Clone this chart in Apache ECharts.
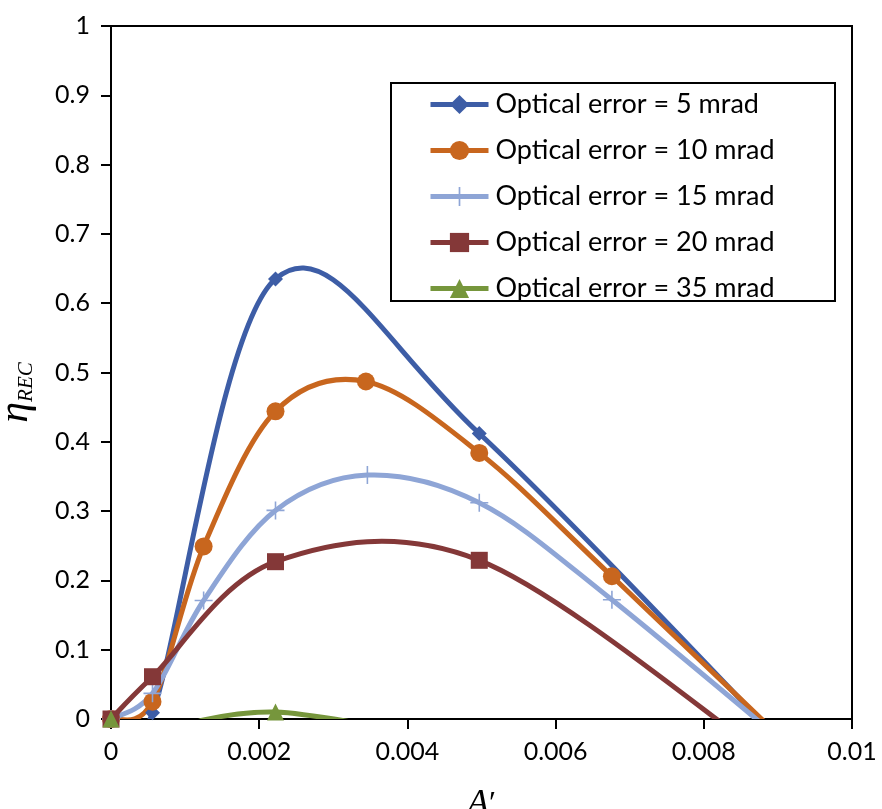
<!DOCTYPE html>
<html>
<head>
<meta charset="utf-8">
<script src="https://cdn.jsdelivr.net/npm/echarts@6/dist/echarts.min.js"></script>
<style>
html,body{margin:0;padding:0;background:#fff;}
#chart{width:882px;height:809px;}
</style>
</head>
<body>
<div id="chart"></div>
<script>
// ---- data ----
const seriesNames = ['Optical error = 5 mrad','Optical error = 10 mrad','Optical error = 15 mrad','Optical error = 20 mrad','Optical error = 35 mrad'];

// points beyond the visible area (negative values) are clipped like in the original
const x5  = [0, 0.00056, 0.00222, 0.00497, 0.0100];
const y5  = [0, 0.009, 0.635, 0.412, -0.14];

const x10 = [0, 0.00056, 0.00125, 0.00222, 0.00344, 0.00497, 0.00676, 0.0100];
const y10 = [0, 0.025, 0.249, 0.444, 0.487, 0.384, 0.206, -0.125];

const x15 = [0, 0.00056, 0.00125, 0.00222, 0.00346, 0.00497, 0.00676, 0.0100];
const y15 = [0, 0.037, 0.171, 0.301, 0.352, 0.312, 0.172, -0.116];

const x20 = [0, 0.00056, 0.00222, 0.00497, 0.0088];
const y20 = [0, 0.061, 0.227, 0.229, -0.05];

const x35 = [0, 0.00056, 0.00125, 0.00222, 0.00346];
const y35 = [0, -0.03, -0.0015, 0.010, -0.008];

const xTicks = [0, 0.002, 0.004, 0.006, 0.008, 0.01];
const yTicks = [0, 0.1, 0.2, 0.3, 0.4, 0.5, 0.6, 0.7, 0.8, 0.9, 1];

const colors = ['#3D5DA6', '#C8661E', '#8EA5D6', '#843838', '#76963C'];
// ----------------------------------------------

const xs = [x5, x10, x15, x20, x35];
const ys = [y5, y10, y15, y20, y35];

const plusPath = 'path://M7.3,0h1.4v7.3h7.3v1.4h-7.3v7.3h-1.4v-7.3h-7.3v-1.4h7.3z';
const symbols = ['diamond', 'circle', plusPath, 'rect', 'triangle'];
const symbolSizes = [15, 18, 18, 17, 17];

const FONT = 'Lato';

// Excel-style smoothed line (cubic Bezier, control points at 1/6 of neighbour chord)
function makeRender(i) {
  return function (params, api) {
    if (params.dataIndex !== 0) return null;
    const pts = xs[i].map((x, k) => api.coord([x, ys[i][k]]));
    let d = 'M' + pts[0][0] + ',' + pts[0][1];
    for (let k = 0; k < pts.length - 1; k++) {
      const p0 = pts[k - 1] || pts[k], p1 = pts[k], p2 = pts[k + 1], p3 = pts[k + 2] || pts[k + 1];
      const c1 = [p1[0] + (p2[0] - p0[0]) / 6, p1[1] + (p2[1] - p0[1]) / 6];
      const c2 = [p2[0] - (p3[0] - p1[0]) / 6, p2[1] - (p3[1] - p1[1]) / 6];
      d += ' C' + c1[0] + ',' + c1[1] + ' ' + c2[0] + ',' + c2[1] + ' ' + p2[0] + ',' + p2[1];
    }
    const cs = params.coordSys;
    return {
      type: 'group',
      clipPath: {type: 'rect', shape: {x: cs.x, y: cs.y - 3, width: cs.width, height: cs.height + 3}},
      children: [{
        type: 'path',
        shape: {pathData: d},
        style: {stroke: colors[i], lineWidth: 5, fill: null, lineJoin: 'round', lineCap: 'butt'}
      }]
    };
  };
}

const series = [];
for (let i = 0; i < 5; i++) {
  const d = xs[i].map((x, k) => [x, ys[i][k]]);
  series.push({
    name: 'curve' + i, type: 'custom', data: d, encode: {x: 0, y: 1},
    renderItem: makeRender(i), z: 2, silent: true
  });
  series.push({
    name: seriesNames[i], type: 'line', data: d, clip: true,
    symbol: symbols[i], symbolSize: symbolSizes[i], showSymbol: true,
    lineStyle: {width: 0, opacity: 0, color: colors[i]},
    itemStyle: {color: colors[i], borderWidth: 0}, z: 2
  });
}

const chart = echarts.init(document.getElementById('chart'), null, {renderer:'canvas'});
chart.setOption({
  animation: false,
  backgroundColor: '#fff',
  grid: {left: 111, top: 26, right: 30, bottom: 90, outerBoundsMode: 'none', containLabel: false,
         show: true, borderColor: '#000', borderWidth: 2, backgroundColor: 'transparent'},
  xAxis: {
    type: 'value', min: xTicks[0], max: xTicks[xTicks.length-1], interval: 0.002,
    axisLine: {show: true, onZero: false, lineStyle: {color: '#000', width: 2}},
    axisTick: {show: true, inside: false, length: 10, lineStyle: {color: '#000', width: 2}},
    axisLabel: {margin: 20, color: '#000', fontFamily: FONT, fontSize: 25, formatter: v => String(+v.toFixed(4))},
    splitLine: {show: false},
    name: '{a|A}{p|′}', nameLocation: 'middle', nameGap: 68,
    nameTextStyle: {rich: {
      a: {fontFamily: 'Liberation Serif', fontStyle: 'italic', fontSize: 36, color: '#000'},
      p: {fontFamily: 'Liberation Serif', fontSize: 32, color: '#000'}
    }}
  },
  yAxis: {
    type: 'value', min: yTicks[0], max: yTicks[yTicks.length-1], interval: 0.1,
    axisLine: {show: true, onZero: false, lineStyle: {color: '#000', width: 2}},
    axisTick: {show: true, inside: false, length: 10, lineStyle: {color: '#000', width: 2}},
    axisLabel: {margin: 21, color: '#000', fontFamily: FONT, fontSize: 25, formatter: v => String(+v.toFixed(2))},
    splitLine: {show: false},
    name: '{a|η}{b|REC}', nameLocation: 'middle', nameGap: 74, nameRotate: 90,
    nameTextStyle: {padding: [0, 40, 0, 0], rich: {
      a: {fontFamily: 'Liberation Serif', fontStyle: 'italic', fontSize: 42, lineHeight: 46, color: '#000', verticalAlign: 'bottom'},
      b: {fontFamily: 'Liberation Serif', fontStyle: 'italic', fontSize: 21, lineHeight: 46, color: '#000', verticalAlign: 'bottom'}
    }}
  },
  legend: {
    show: true, orient: 'vertical', left: 428, top: 91, padding: 0,
    itemWidth: 58, itemHeight: 24, itemGap: 19,
    lineStyle: {width: 5, opacity: 1},
    textStyle: {fontFamily: FONT, fontSize: 27, color: '#000', lineHeight: 24, padding: [0,0,0,2]},
    data: seriesNames
  },
  graphic: [{
    type: 'rect', left: 390, top: 82, z: 100,
    shape: {width: 444, height: 218},
    style: {fill: 'transparent', stroke: '#000', lineWidth: 2}
  }],
  series: series
});
</script>
</body>
</html>
